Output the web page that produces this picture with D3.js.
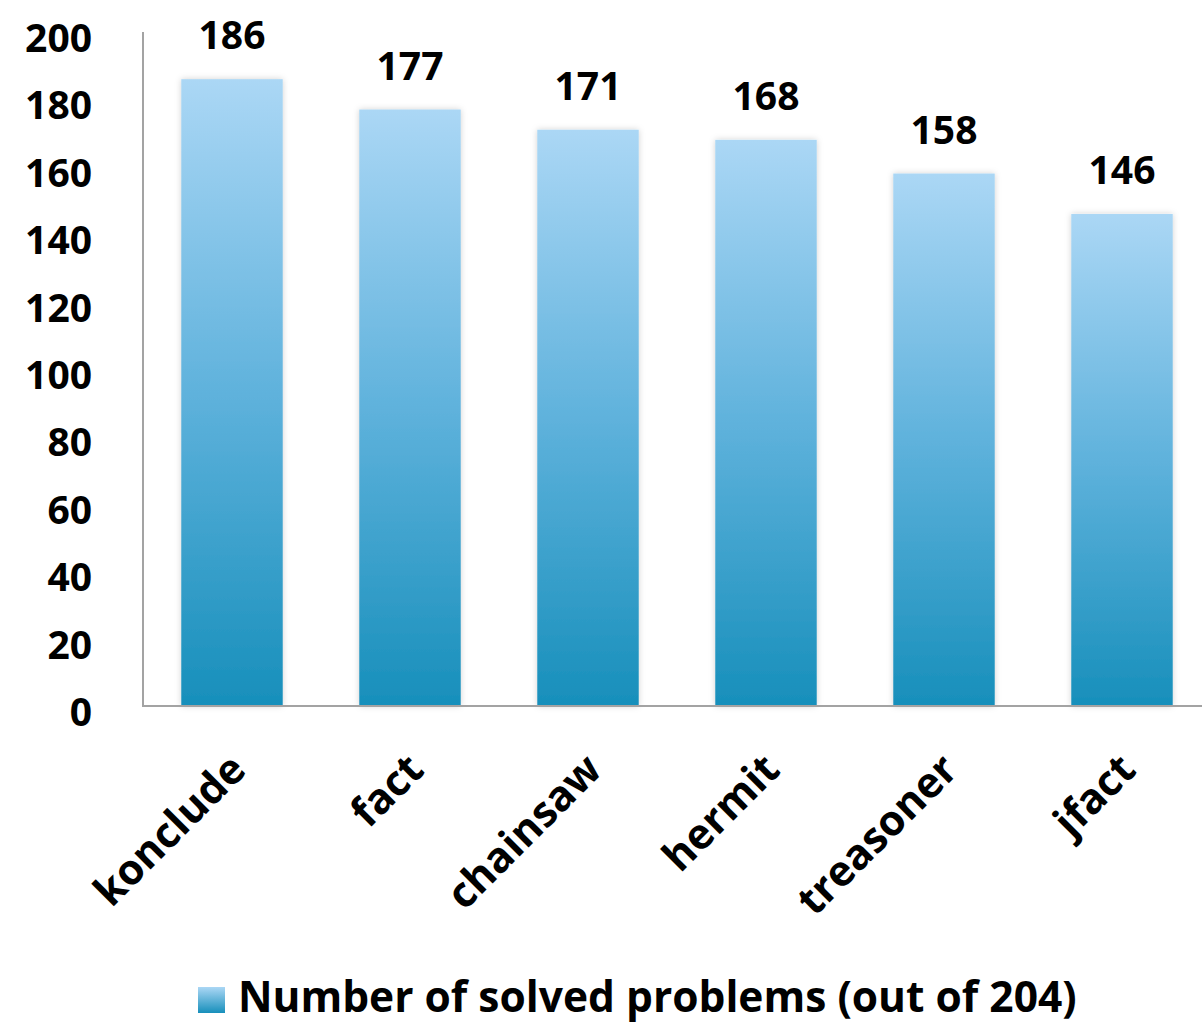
<!DOCTYPE html>
<html><head><meta charset="utf-8">
<script src="https://cdn.jsdelivr.net/npm/d3@7"></script>
<style>
html,body{margin:0;padding:0;background:#fff;}
svg{display:block;font-family:"Open Sans",Lato,sans-serif;font-weight:bold;}
</style></head>
<body>
<script>
const categories = ["konclude","fact","chainsaw","hermit","treasoner","jfact"];
const values = [186,177,171,168,158,146];
const yTicks = [0,20,40,60,80,100,120,140,160,180,200];
const seriesName = "Number of solved problems (out of 204)";

const W = 1202, H = 1029;
const svg = d3.select("body").append("svg").attr("width",W).attr("height",H);
const defs = svg.append("defs");
const grad = defs.append("linearGradient").attr("id","barGrad")
  .attr("x1",0).attr("y1",0).attr("x2",0).attr("y2",1);
grad.append("stop").attr("offset","0%").attr("stop-color","#abd7f5");
grad.append("stop").attr("offset","50%").attr("stop-color","#5fb2dc");
grad.append("stop").attr("offset","100%").attr("stop-color","#178fbb");
const sh = defs.append("filter").attr("id","shadow").attr("x","-20%").attr("y","-5%").attr("width","140%").attr("height","110%");
sh.append("feDropShadow").attr("dx",0).attr("dy",0).attr("stdDeviation",3).attr("flood-color","#000").attr("flood-opacity",0.18);

const mLeft = 143, mRight = 1211, mTop = 32, mBottom = 706;
const x = d3.scaleBand().domain(categories).range([mLeft,mRight]).paddingInner(0.43).paddingOuter(0.215);
const y = d3.scaleLinear().domain([0,200]).range([mBottom,mTop]);

// bars
svg.append("g").selectAll("rect").data(values).join("rect")
  .attr("x",(d,i)=>x(categories[i]))
  .attr("y",d=>y(d))
  .attr("width",x.bandwidth())
  .attr("height",d=>y(0)-y(d))
  .attr("fill","url(#barGrad)")
  .attr("filter","url(#shadow)");

// axes lines
const axisColor = "#a3a3a3";
svg.append("line").attr("x1",mLeft).attr("x2",mLeft).attr("y1",mTop).attr("y2",mBottom+1)
  .attr("stroke",axisColor).attr("stroke-width",2);
svg.append("line").attr("x1",mLeft).attr("x2",W).attr("y1",mBottom).attr("y2",mBottom)
  .attr("stroke",axisColor).attr("stroke-width",2);

// y tick labels
svg.append("g").selectAll("text").data(yTicks).join("text")
  .attr("x",92).attr("y",d=>y(d)+20)
  .attr("text-anchor","end").attr("font-size",39).attr("fill","#000")
  .text(d=>d);

// value labels
svg.append("g").selectAll("text").data(values).join("text")
  .attr("x",(d,i)=>x(categories[i])+x.bandwidth()/2)
  .attr("y",d=>y(d)-30)
  .attr("text-anchor","middle").attr("font-size",39).attr("fill","#000")
  .text(d=>d);

// category labels
svg.append("g").selectAll("text").data(categories).join("text")
  .attr("transform",d=>`translate(${x(d)+x.bandwidth()/2+16},772) rotate(-45)`)
  .attr("text-anchor","end").attr("font-size",42).attr("fill","#000")
  .text(d=>d);

// legend
const lg = svg.append("g");
const lgGrad = defs.append("linearGradient").attr("id","lgGrad").attr("x1",0).attr("y1",0).attr("x2",0).attr("y2",1);
lgGrad.append("stop").attr("offset","0%").attr("stop-color","#abd7f5");
lgGrad.append("stop").attr("offset","100%").attr("stop-color","#178fbb");
lg.append("rect").attr("x",198).attr("y",987).attr("width",27).attr("height",26).attr("fill","url(#lgGrad)");
lg.append("text").attr("x",238).attr("y",1012).attr("font-size",42.5).attr("fill","#000").text(seriesName);
</script>
</body></html>
